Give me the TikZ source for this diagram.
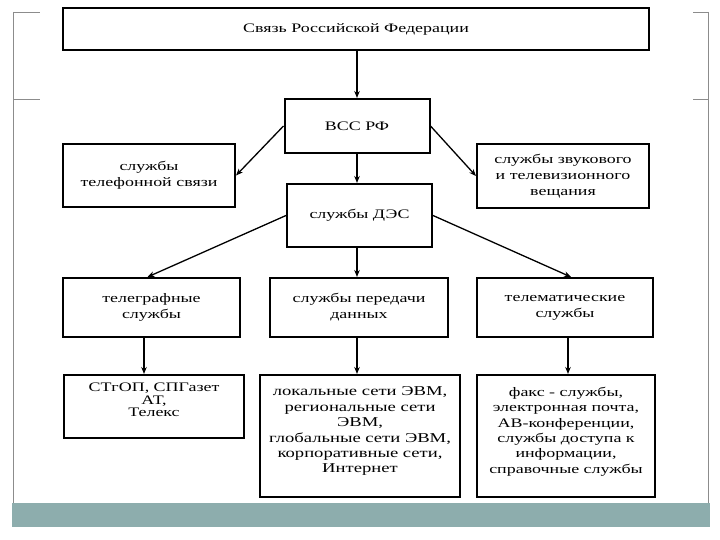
\documentclass[tikz,border=0pt]{standalone}
\usepackage{fontspec}
\setmainfont{Liberation Serif}[FakeStretch=1.38]
\usetikzlibrary{arrows.meta}
\definecolor{band}{RGB}{141,173,173}
\definecolor{framegray}{RGB}{140,140,140}
\begin{document}
\begin{tikzpicture}[x=1pt,y=-1pt,
  box/.style={draw, line width=2pt, align=center, inner sep=0pt, font=\fontsize{13}{16}\selectfont},
  boxfour/.style={draw, line width=2pt, inner sep=0pt, anchor=north west},
  arr/.style={-{Stealth[length=7pt,width=5.5pt]}, line width=1.3pt},
  fr/.style={draw=framegray, line width=0.8pt}]
\useasboundingbox (0,0) rectangle (720,540);
% slide decoration
\fill[band] (12,503) rectangle (710,527);
\draw[fr] (13,12) -- (13,503);
\draw[fr] (13,12) -- (40,12);
\draw[fr] (13,99) -- (40,99);
\draw[fr] (708,12) -- (708,503);
\draw[fr] (693,12) -- (708,12);
\draw[fr] (693,99) -- (708,99);
% boxes
\node[box, minimum width=586pt, minimum height=42pt] (top) at (356,29) {Связь Российской Федерации};
\node[box, minimum width=145pt, minimum height=54pt] (vss) at (357,126) {ВСС РФ};
\node[box, minimum width=172pt, minimum height=63pt] (tel) at (149,175.5) {службы\\телефонной связи};
\node[box, minimum width=172pt, minimum height=64pt] (snd) at (563,176) {службы звукового\\и телевизионного\\вещания};
\node[box, minimum width=145pt, minimum height=63pt] (des) at (359.5,215.5) {службы ДЭС};
\node[box, minimum width=177pt, minimum height=59pt] (tg) at (151.5,307.5) {телеграфные\\службы};
\node[box, minimum width=178pt, minimum height=59pt] (dt) at (359,307.5) {службы передачи\\данных};
\node[box, minimum width=176pt, minimum height=59pt] (tm) at (565,307.5) {телематические\\службы};
\node[boxfour] (ra) at (63,374) {\begin{minipage}[t][63pt][t]{180pt}\centering\lineskiplimit=-20pt\fontsize{13}{12.5}\selectfont\vspace*{8pt}СТгОП, СПГазет\\АТ,\\Телекс\end{minipage}};
\node[boxfour] (rb) at (259,374) {\begin{minipage}[t][122pt][t]{200pt}\centering\lineskiplimit=-20pt\fontsize{13.5}{15.4}\selectfont\vspace*{12pt}локальные сети ЭВМ,\\региональные сети\\ЭВМ,\\глобальные сети ЭВМ,\\корпоративные сети,\\Интернет\end{minipage}};
\node[boxfour] (rc) at (476,374) {\begin{minipage}[t][122pt][t]{178pt}\centering\lineskiplimit=-20pt\fontsize{13}{15.4}\selectfont\vspace*{12pt}факс - службы,\\электронная почта,\\АВ-конференции,\\службы доступа к\\информации,\\справочные службы\end{minipage}};
% connectors
\draw[arr] (vss.north |- top.south) -- (vss.north);
\draw[arr] (vss.west) -- (tel.east);
\draw[arr] (vss.east) -- (snd.west);
\draw[arr] (vss.south) -- (vss.south |- des.north);
\draw[arr] (des.west) -- ([xshift=-4pt]tg.north);
\draw[arr] (vss.south |- des.south) -- (vss.south |- dt.north);
\draw[arr] (des.east) -- ([xshift=6pt]tm.north);
\draw[arr] ([xshift=-7.5pt]tg.south) -- ([xshift=-7.5pt]tg.south |- ra.north);
\draw[arr] (vss.south |- dt.south) -- (vss.south |- rb.north);
\draw[arr] ([xshift=3pt]tm.south) -- ([xshift=3pt]tm.south |- rc.north);
\end{tikzpicture}
\end{document}
